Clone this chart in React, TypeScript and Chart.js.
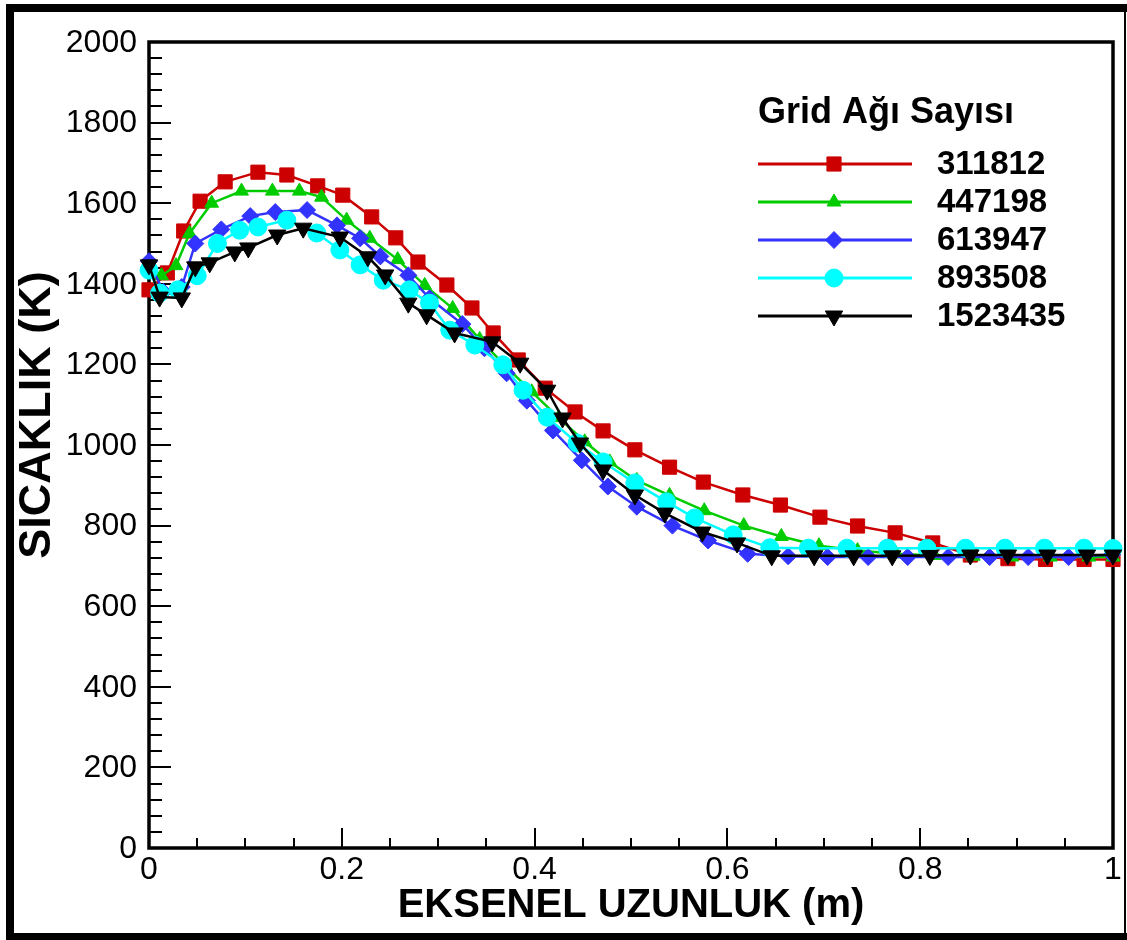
import React, { useEffect, useRef } from 'react';
import { Chart, registerables } from 'chart.js';
import { drawPoint } from 'chart.js/helpers';

Chart.register(...registerables);

// ---- Data ----
const seriesNames = ['311812', '447198', '613947', '893508', '1523435'];
const seriesColors = ['#cc0000', '#00cc00', '#3333ff', '#00ffff', '#000000'];
const legendTitle = 'Grid Ağı Sayısı';
const xAxisTitle = 'EKSENEL UZUNLUK (m)';
const yAxisTitle = 'SICAKLIK (K)';

const xTickValues = [0, 0.2, 0.4, 0.6, 0.8, 1];
const xTickLabels = ['0', '0.2', '0.4', '0.6', '0.8', '1'];
const yTickValues = [0, 200, 400, 600, 800, 1000, 1200, 1400, 1600, 1800, 2000];
const yTickLabels = ['0', '200', '400', '600', '800', '1000', '1200', '1400', '1600', '1800', '2000'];

const redX = [0, 0.019, 0.036, 0.053, 0.079, 0.113, 0.143, 0.175, 0.201, 0.231, 0.256, 0.279, 0.309, 0.335, 0.357, 0.383, 0.411, 0.442, 0.471, 0.504, 0.54, 0.575, 0.616, 0.655, 0.696, 0.735, 0.774, 0.813, 0.852, 0.891, 0.93, 0.97, 1.0];
const redY = [1385, 1427, 1531, 1605, 1653, 1677, 1670, 1643, 1620, 1566, 1514, 1454, 1397, 1340, 1278, 1211, 1141, 1082, 1035, 988, 945, 908, 876, 851, 821, 799, 782, 757, 727, 718, 716, 716, 716];

const greenX = [0, 0.013, 0.028, 0.042, 0.065, 0.096, 0.128, 0.156, 0.179, 0.205, 0.229, 0.258, 0.286, 0.315, 0.343, 0.37, 0.397, 0.425, 0.452, 0.478, 0.506, 0.54, 0.576, 0.617, 0.656, 0.695, 0.735, 0.775, 0.815, 0.855, 0.895, 0.935, 0.975, 1.0];
const greenY = [1445, 1420, 1445, 1525, 1600, 1630, 1630, 1630, 1615, 1558, 1513, 1460, 1396, 1339, 1262, 1196, 1132, 1068, 1008, 958, 912, 875, 837, 800, 773, 750, 738, 730, 726, 724, 722, 722, 722, 722];

const blueX = [0, 0.015, 0.034, 0.048, 0.075, 0.105, 0.131, 0.164, 0.195, 0.219, 0.24, 0.269, 0.291, 0.325, 0.348, 0.371, 0.392, 0.419, 0.449, 0.476, 0.506, 0.543, 0.58, 0.621, 0.663, 0.704, 0.746, 0.787, 0.829, 0.872, 0.912, 0.954, 0.999];
const blueY = [1456, 1380, 1392, 1500, 1535, 1568, 1578, 1583, 1545, 1513, 1468, 1421, 1364, 1300, 1240, 1178, 1110, 1036, 962, 897, 847, 800, 763, 730, 724, 722, 722, 722, 722, 722, 722, 722, 728];

const cyanX = [0, 0.011, 0.03, 0.05, 0.071, 0.094, 0.113, 0.143, 0.174, 0.198, 0.219, 0.243, 0.27, 0.291, 0.312, 0.338, 0.367, 0.388, 0.413, 0.444, 0.471, 0.504, 0.537, 0.566, 0.606, 0.644, 0.684, 0.724, 0.766, 0.807, 0.847, 0.888, 0.929, 0.97, 1.0];
const cyanY = [1434, 1377, 1385, 1420, 1500, 1533, 1541, 1558, 1526, 1484, 1447, 1409, 1385, 1352, 1285, 1248, 1199, 1136, 1069, 1005, 958, 906, 859, 819, 777, 745, 744, 744, 744, 744, 744, 744, 744, 744, 743];

const blackX = [0, 0.011, 0.034, 0.048, 0.063, 0.089, 0.103, 0.133, 0.16, 0.198, 0.227, 0.245, 0.269, 0.288, 0.317, 0.356, 0.385, 0.413, 0.429, 0.447, 0.471, 0.504, 0.535, 0.574, 0.61, 0.646, 0.69, 0.731, 0.771, 0.81, 0.852, 0.891, 0.932, 0.973, 1.0];
const blackY = [1447, 1367, 1365, 1442, 1452, 1479, 1489, 1521, 1538, 1516, 1467, 1422, 1352, 1323, 1278, 1256, 1203, 1136, 1067, 1005, 938, 876, 831, 784, 757, 725, 725, 725, 725, 726, 727, 727, 727, 727, 727];

const seriesXs = [redX, greenX, blueX, cyanX, blackX];
const seriesYs = [redY, greenY, blueY, cyanY, blackY];

// ---- Styles ----
const pointStyles = ['rect', 'triangle', 'rectRot', 'circle', 'triangle'];
const pointRotations = [0, 0, 0, 0, 180];
const pointRadii = [10, 8, 8.5, 9, 10];

const FONT = '"Liberation Sans", Arial, Helvetica, sans-serif';

const decorPlugin = {
  id: 'decor',
  beforeDatasetsDraw(chart: any) {
    const { ctx, chartArea } = chart;
    const xs = chart.scales.x;
    const ys = chart.scales.y;
    ctx.save();
    // page frame
    ctx.fillStyle = '#000';
    ctx.fillRect(6, 4, 1121, 8); // top
    ctx.fillRect(6, 4, 8, 936); // left
    ctx.fillRect(6, 933, 1121, 7); // bottom
    ctx.fillRect(1124, 4, 2, 936); // right thin

    // axes box
    ctx.strokeStyle = '#000';
    ctx.lineWidth = 3.5;
    ctx.strokeRect(chartArea.left, chartArea.top, chartArea.right - chartArea.left, chartArea.bottom - chartArea.top);

    // ticks
    ctx.lineWidth = 2;
    ctx.beginPath();
    for (let v = 0; v <= 2000.01; v += 40) {
      const y = Math.round(ys.getPixelForValue(v));
      const major = Math.abs(v % 200) < 0.01;
      ctx.moveTo(chartArea.left, y);
      ctx.lineTo(chartArea.left + (major ? 22 : 13), y);
    }
    for (let i = 0; i <= 20; i++) {
      const v = i * 0.05;
      const x = Math.round(xs.getPixelForValue(v));
      const major = i % 4 === 0;
      ctx.moveTo(x, chartArea.bottom);
      ctx.lineTo(x, chartArea.bottom - (major ? 20 : 10));
    }
    ctx.stroke();
    ctx.restore();
  },
  afterDraw(chart: any) {
    const { ctx, chartArea } = chart;
    const xs = chart.scales.x;
    const ys = chart.scales.y;
    ctx.save();
    ctx.fillStyle = '#000';
    // y tick labels
    ctx.font = `32px ${FONT}`;
    ctx.textAlign = 'right';
    ctx.textBaseline = 'middle';
    yTickValues.forEach((v, i) => {
      ctx.fillText(yTickLabels[i], chartArea.left - 12, ys.getPixelForValue(v) + 1);
    });
    // x tick labels
    ctx.textAlign = 'center';
    ctx.textBaseline = 'top';
    xTickValues.forEach((v, i) => {
      ctx.fillText(xTickLabels[i], xs.getPixelForValue(v), chartArea.bottom + 6);
    });
    // axis titles
    ctx.font = `bold 40px ${FONT}`;
    ctx.textBaseline = 'middle';
    ctx.fillText(xAxisTitle, (chartArea.left + chartArea.right) / 2, 906);
    ctx.save();
    ctx.translate(38, 415);
    ctx.rotate(-Math.PI / 2);
    ctx.font = `bold 45px ${FONT}`;
    ctx.fillText(yAxisTitle, 0, 0);
    ctx.restore();

    // legend
    ctx.textAlign = 'left';
    ctx.font = `bold 36px ${FONT}`;
    ctx.fillText(legendTitle, 758, 113);
    ctx.font = `bold 33px ${FONT}`;
    const rowYs = [164, 202, 240, 278, 316];
    seriesNames.forEach((name, i) => {
      const y = rowYs[i];
      ctx.strokeStyle = seriesColors[i];
      ctx.lineWidth = 3;
      ctx.beginPath();
      ctx.moveTo(758, y);
      ctx.lineTo(912, y);
      ctx.stroke();
      ctx.fillStyle = seriesColors[i];
      ctx.strokeStyle = seriesColors[i];
      ctx.lineWidth = 1;
      drawPoint(ctx, { pointStyle: pointStyles[i], rotation: pointRotations[i], radius: pointRadii[i], borderWidth: 1 }, 834, y);
      ctx.fillStyle = '#000';
      ctx.fillText(name, 937, y + 1);
    });
    ctx.restore();
  },
};

export default function App() {
  const canvasRef = useRef<HTMLCanvasElement | null>(null);

  useEffect(() => {
    document.body.style.margin = '0';
    const canvas = canvasRef.current;
    if (!canvas) return;
    const datasets = seriesNames.map((name, i) => ({
      label: name,
      data: seriesXs[i].map((x, j) => ({ x, y: seriesYs[i][j] })),
      borderColor: seriesColors[i],
      backgroundColor: seriesColors[i],
      pointBackgroundColor: seriesColors[i],
      pointBorderColor: seriesColors[i],
      pointBorderWidth: 1,
      borderWidth: 2.5,
      pointStyle: pointStyles[i],
      pointRotation: pointRotations[i],
      pointRadius: pointRadii[i],
      tension: 0,
      clip: false as any,
      order: seriesNames.length - i,
    }));
    const chart = new Chart(canvas, {
      type: 'line',
      data: { datasets },
      options: {
        animation: false,
        responsive: false,
        maintainAspectRatio: false,
        events: [],
        layout: { padding: { left: 149, top: 42, right: 14, bottom: 92 } },
        plugins: { legend: { display: false }, tooltip: { enabled: false } },
        scales: {
          x: { type: 'linear', min: 0, max: 1, display: false },
          y: { type: 'linear', min: 0, max: 2000, display: false },
        },
      },
      plugins: [decorPlugin],
    });
    return () => chart.destroy();
  }, []);

  return (
    <div style={{ position: 'absolute', left: 0, top: 0, width: 1127, height: 940, background: '#fff' }}>
      <canvas ref={canvasRef} width={1127} height={940} style={{ display: 'block', width: 1127, height: 940 }} />
    </div>
  );
}
